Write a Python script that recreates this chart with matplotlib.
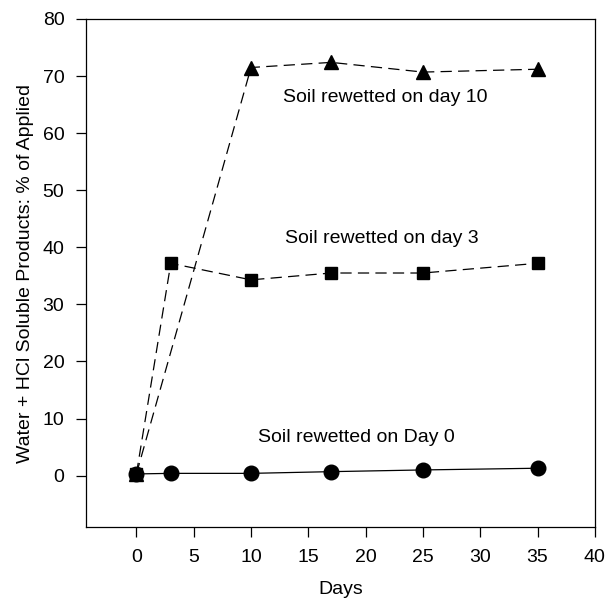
import matplotlib
matplotlib.use("Agg")
import matplotlib.pyplot as plt

plt.rcParams['font.family'] = ['Liberation Sans', 'DejaVu Sans']

days_d0 = [0, 3, 10, 17, 25, 35]
vals_d0 = [0.3, 0.4, 0.4, 0.7, 1.0, 1.3]
days_d3 = [0, 3, 10, 17, 25, 35]
vals_d3 = [0.3, 37.2, 34.3, 35.5, 35.5, 37.2]
days_d10 = [0, 10, 17, 25, 35]
vals_d10 = [0.3, 71.5, 72.4, 70.7, 71.2]

labels = ["Soil rewetted on Day 0", "Soil rewetted on day 3", "Soil rewetted on day 10"]
label_pos = [(19.2, 6.6), (21.4, 41.5), (21.7, 66.2)]

fig = plt.figure(figsize=(6.08, 6.03), dpi=100)
ax = fig.add_axes([0.1414, 0.126, 0.837, 0.8425])

ax.plot(days_d0, vals_d0, '-', color='black', lw=0.9, marker='o', ms=10.5)
ax.plot(days_d3, vals_d3, color='black', lw=0.9, ls=(0, (9, 5)), marker='s', ms=9)
ax.plot(days_d10, vals_d10, color='black', lw=0.9, ls=(0, (9, 5)), marker='^', ms=9.5)

for t, (x, y) in zip(labels, label_pos):
    ax.text(x, y, t, ha='center', va='center', fontsize=14)

ax.set_xlim(-4.4, 40)
ax.set_ylim(-9, 80)
ax.set_xticks(range(0, 41, 5))
ax.set_yticks(range(0, 81, 10))
ax.tick_params(direction='out', length=7.5, width=0.9, labelsize=14, pad=8)
for s in ax.spines.values():
    s.set_linewidth(0.9)
ax.set_xlabel("Days", fontsize=14, labelpad=11)
ax.set_ylabel("Water + HCl Soluble Products: % of Applied", fontsize=14, labelpad=6)

fig.savefig("out.png", dpi=100)
